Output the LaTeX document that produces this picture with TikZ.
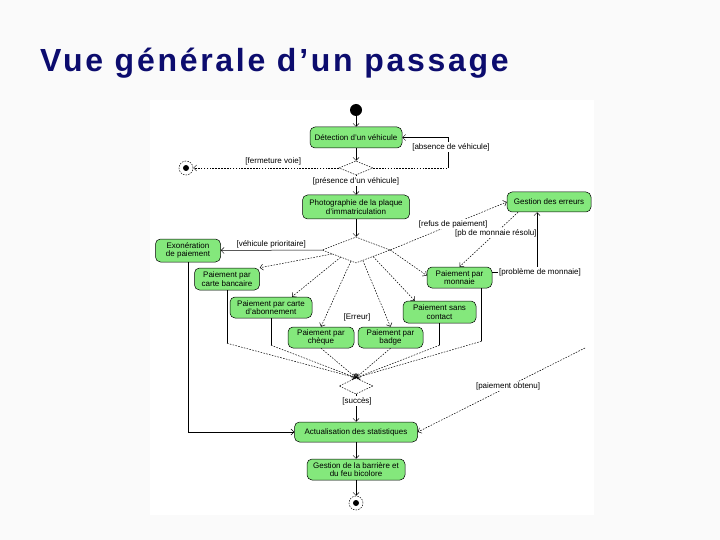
\documentclass[tikz,border=0pt]{standalone}
\usepackage{fontspec}
\setmainfont{Liberation Sans}
\newfontfamily\titlefont[LetterSpace=8.5]{Liberation Sans}
\usetikzlibrary{arrows.meta,shapes.geometric,calc}
\definecolor{titleblue}{RGB}{12,12,110}
\definecolor{actgreen}{RGB}{132,232,124}
\begin{document}
\begin{tikzpicture}[x=1pt,y=-1pt,
  act/.style={draw=black, fill=actgreen, rounded corners=5pt, line width=0.5pt, align=center,
              inner sep=1pt, font=\fontsize{8}{8.6}\selectfont},
  dec/.style={diamond, draw, line width=0.5pt, dash pattern=on 1.5pt off 1.2pt, inner sep=0pt},
  startnode/.style={circle, fill=black, minimum size=12pt, inner sep=0pt},
  endnode/.style={circle, draw, fill=white, line width=0.5pt, dash pattern=on 1.5pt off 1.2pt,
              minimum size=14pt, inner sep=0pt,
              path picture={\fill[black] (path picture bounding box.center) circle (3pt);}},
  lbl/.style={font=\fontsize{8}{9}\selectfont, inner sep=1pt},
  arr/.style={line width=0.5pt, -{Straight Barb[length=3pt,width=6pt]}},
  ln/.style={line width=0.5pt},
  dsh/.style={dash pattern=on 1.6pt off 1.3pt}
]
\path[use as bounding box] (0,0) rectangle (720,540);
\fill[gray!4] (0,0) rectangle (720,540);
\fill[white] (150,100) rectangle (594,515);

\node[anchor=base west, font=\titlefont\bfseries\fontsize{32}{36}\selectfont, text=titleblue, inner sep=0pt]
  (title) at (40,72) {Vue générale d’un passage};

% nodes
\node[startnode] (init) at (356,110) {};
\node[act, minimum width=92pt, minimum height=21pt] (det) at (356,137.5) {Détection d'un véhicule};
\node[dec, minimum width=34pt, minimum height=14pt] (d1) at (356,168) {};
\node[endnode] (fin1) at (186,168) {};
\node[act, minimum width=107pt, minimum height=24pt] (photo) at (356,207) {Photographie de la plaque\\d'immatriculation};
\node[act, minimum width=84pt, minimum height=20pt] (err) at (549,202) {Gestion des erreurs};
\node[dec, minimum width=68pt, minimum height=26pt] (d2) at (356,250) {};
\node[act, minimum width=65pt, minimum height=23pt] (exo) at (188,250.5) {Exonération\\de paiement};
\node[act, minimum width=65pt, minimum height=22pt] (cb) at (227,279) {Paiement par\\carte bancaire};
\node[act, minimum width=82pt, minimum height=21pt] (abo) at (271,307.5) {Paiement par carte\\d'abonnement};
\node[act, minimum width=66pt, minimum height=21pt] (chq) at (321,337.5) {Paiement par\\chèque};
\node[act, minimum width=65pt, minimum height=21pt] (bdg) at (390.5,337.5) {Paiement par\\badge};
\node[act, minimum width=65pt, minimum height=21pt] (mon) at (459.5,277.5) {Paiement par\\monnaie};
\node[act, minimum width=73pt, minimum height=22pt] (ctc) at (439.5,312) {Paiement sans\\contact};
\node[dec, minimum width=34pt, minimum height=16pt] (d3) at (356,386) {};
\node[act, minimum width=123pt, minimum height=20pt] (stat) at (356,432) {Actualisation des statistiques};
\node[act, minimum width=98pt, minimum height=21pt] (bar) at (356,469.5) {Gestion de la barrière et\\du feu bicolore};
\node[endnode] (fin2) at (356,503) {};

\coordinate (a1) at (448,168);
\coordinate (p0) at (585,348);

% top part
\draw[arr] (init) -- (det);
\draw[arr] (det) -- (d1);
\draw[arr,dsh] (d1.west) -- (fin1) node[lbl, above=2pt, pos=0.45] (lf) {[fermeture voie]};
\draw[ln,dsh] (d1.east) -- (a1);
\draw[arr] (a1) |- (det.east);
\node[lbl, fill=white] (la) at (451,147) {[absence de véhicule]};
\draw[arr] (d1) -- (photo);
\node[lbl, fill=white] (lp) at (356,181) {[présence d'un véhicule]};
\draw[arr] (photo) -- (d2);

% fan out
\draw[arr] (d2.west) -- (exo.east) node[lbl, above=1pt, midway] (lv) {[véhicule prioritaire]};
\draw[arr,dsh] ($(d2.west)!0.3!(d2.south)$) -- (cb.north east);
\draw[arr,dsh] ($(d2.west)!0.55!(d2.south)$) -- ([xshift=21pt]abo.north);
\draw[arr,dsh] ($(d2.west)!0.85!(d2.south)$) -- (chq.north);
\draw[arr,dsh] ($(d2.south)!0.2!(d2.east)$) -- (bdg.north);
\draw[arr,dsh] ($(d2.south)!0.5!(d2.east)$) -- ([xshift=12pt]ctc.north west);
\draw[arr,dsh] (d2.east) -- ([yshift=2pt]mon.west);
\draw[arr,dsh] (d2.east) -- (err.west) node[lbl, fill=white, pos=0.54] (lr) {[refus de paiement]};
\draw[arr,dsh] ([xshift=-31pt]err.south) -- (mon.north) node[lbl, fill=white, pos=0.38] (lm) {[pb de monnaie résolu]};
\draw[arr] ([yshift=5pt]mon.east) -| ([xshift=-12pt]err.south);
\node[lbl, fill=white] (lpm) at (540,272) {[problème de monnaie]};
\node[lbl] (le) at (357,317) {[Erreur]};

% merge
\draw[ln] (cb.south) -- ++(0,53) coordinate (m1);
\draw[arr,dsh] (m1) -- (d3.north);
\draw[ln] (abo.south) -- ++(0,27) coordinate (m2);
\draw[arr,dsh] (m2) -- (d3.north);
\draw[arr,dsh] (chq.south) -- (d3.north);
\draw[arr,dsh] (bdg.south) -- (d3.north);
\draw[ln] (ctc.south) -- ++(0,22) coordinate (m5);
\draw[arr,dsh] (m5) -- (d3.north);
\draw[ln] ([xshift=22pt]mon.south) -- ++(0,53) coordinate (m6);
\draw[arr,dsh] (m6) -- (d3.north);

% bottom
\draw[arr] (exo.south) |- (stat.west);
\draw[arr] (d3) -- (stat);
\node[lbl, fill=white] (ls) at (357,401) {[succès]};
\draw[arr,dsh] (p0) -- (stat.east) node[lbl, fill=white, pos=0.46] (lo) {[paiement obtenu]};
\draw[arr] (stat) -- (bar);
\draw[arr] (bar) -- (fin2);
\end{tikzpicture}
\end{document}
